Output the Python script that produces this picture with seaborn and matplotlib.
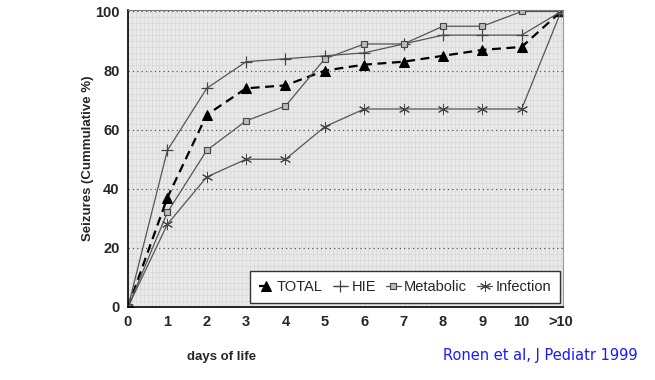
import matplotlib
matplotlib.use("Agg")
import matplotlib.pyplot as plt
from matplotlib.ticker import MultipleLocator
import seaborn as sns
import pandas as pd

days = ["0", "1", "2", "3", "4", "5", "6", "7", "8", "9", "10", ">10"]
total = [0, 37, 65, 74, 75, 80, 82, 83, 85, 87, 88, 100]
hie = [0, 53, 74, 83, 84, 85, 86, 89, 92, 92, 92, 100]
metabolic = [0, 32, 53, 63, 68, 84, 89, 89, 95, 95, 100, 100]
infection = [0, 28, 44, 50, 50, 61, 67, 67, 67, 67, 67, 100]

sns.set_style("white")
plt.rcParams['font.family'] = ['Liberation Sans', 'DejaVu Sans']

fig = plt.figure(figsize=(6.55, 3.8), dpi=100)
ax = fig.add_axes([128 / 655, 73 / 380, 435 / 655, 297 / 380])
ax.set_facecolor("#e9e9e9")

pos = list(range(len(days)))

series = [
    ("TOTAL", total, dict(color="black", lw=1.6, ls=(0, (4, 2.5)), marker="^", ms=7,
                          mfc="black", mec="black")),
    ("HIE", hie, dict(color="#555555", lw=0.9, marker="+", ms=9, mew=0.9,
                      mec="#444444")),
    ("Metabolic", metabolic, dict(color="#555555", lw=0.9, marker="s", ms=5,
                                  mfc="#bbbbbb", mec="#444444", mew=0.8)),
    ("Infection", infection, dict(color="#555555", lw=0.9, marker=(6, 2, 0), ms=8,
                                  mew=0.7, mec="#444444")),
]
for name, vals, kw in series:
    df = pd.DataFrame({"day": pos, "pct": vals})
    sns.lineplot(data=df, x="day", y="pct", ax=ax, label=name, **kw)

ax.set_xlim(0, 11.05)
ax.set_ylim(0, 100.5)
ax.set_xticks(pos)
ax.set_xticklabels(days)
ax.set_yticks([0, 20, 40, 60, 80, 100])
ax.xaxis.set_minor_locator(MultipleLocator(0.1))
ax.yaxis.set_minor_locator(MultipleLocator(2))
ax.grid(which="minor", color="#d2d2d2", lw=0.4)
ax.grid(which="major", axis="y", color="#555555", ls=(0, (1, 2.5)), lw=0.9)
ax.grid(which="major", axis="x", color="#d2d2d2", lw=0.4)
ax.tick_params(axis="both", which="major", labelsize=10.5, length=0, pad=6)
for lab in ax.get_xticklabels() + ax.get_yticklabels():
    lab.set_fontweight("bold")

for side in ["left", "bottom"]:
    ax.spines[side].set_color("black")
    ax.spines[side].set_linewidth(1.2)
ax.spines["top"].set_color("#777777")
ax.spines["right"].set_color("#999999")

ax.set_xlabel("")
ax.set_ylabel("Seizures (Cummulative %)", fontsize=9.5, fontweight="bold", labelpad=1)
fig.text(0.285, 0.052, "days of life", fontsize=9.5, fontweight="bold")
fig.text(0.676, 0.052, "Ronen et al, J Pediatr 1999", fontsize=10.5, color="#1a1aff",
         family=["DejaVu Sans"])

leg = ax.legend(loc="lower right", ncol=4, frameon=True, fancybox=False,
                handlelength=1.0, handletextpad=0.25, columnspacing=0.7,
                fontsize=10.5, borderpad=0.6, bbox_to_anchor=(1.01, -0.01))
leg.get_frame().set_edgecolor("#333333")
leg.get_frame().set_facecolor("white")
leg.get_frame().set_alpha(1)

fig.savefig("out.png", dpi=100)
